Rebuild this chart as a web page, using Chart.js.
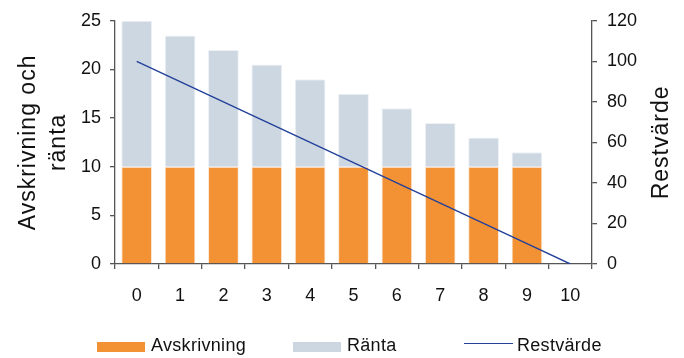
<!DOCTYPE html>
<html>
<head>
<meta charset="utf-8">
<script src="https://cdn.jsdelivr.net/npm/chart.js@4/dist/chart.umd.min.js"></script>
<style>
  html, body { margin: 0; padding: 0; background: #fff; }
  #wrap { position: relative; width: 684px; height: 358px; font-family: "Liberation Sans", Arial, sans-serif; }
  canvas { position: absolute; left: 0; top: 0; }
  .leg { position: absolute; top: 336px; height: 18px; font-size: 18px; line-height: 18px; color: #111; letter-spacing: 0.3px; white-space: nowrap; }
  .sw { position: absolute; }
</style>
</head>
<body>
<div id="wrap">
  <canvas id="c" width="684" height="358"></canvas>
  <div class="sw" style="left:97px; top:342px; width:48px; height:10px; background:#F39234;"></div>
  <div class="leg" style="left:151px;">Avskrivning</div>
  <div class="sw" style="left:293px; top:342px; width:48px; height:10px; background:#CDD7E2;"></div>
  <div class="leg" style="left:347px;">Ränta</div>
  <div class="sw" style="left:464px; top:343px; width:49px; height:1.4px; background:#23409A;"></div>
  <div class="leg" style="left:517px;">Restvärde</div>
</div>
<script>
// Years
const years = ['0', '1', '2', '3', '4', '5', '6', '7', '8', '9', '10'];
// Annual depreciation (left axis)
const avskrivning = [10, 10, 10, 10, 10, 10, 10, 10, 10, 10, null];
// Annual interest (left axis)
const ranta = [15, 13.5, 12, 10.5, 9, 7.5, 6, 4.5, 3, 1.5, null];
// Remaining value (right axis)
const restvarde = [100, 90, 80, 70, 60, 50, 40, 30, 20, 10, 0];

const leftTitle = ['Avskrivning och', 'ränta'];
const rightTitle = 'Restvärde';

const axisColor = '#555555';
const tickFont = { family: '"Liberation Sans", Arial, sans-serif', size: 18 };

// Rotated axis titles
const axisTitles = {
  id: 'axisTitles',
  afterDraw(chart) {
    const ctx = chart.ctx;
    ctx.save();
    ctx.fillStyle = '#111';
    ctx.font = '23px "Liberation Sans", Arial, sans-serif';
    ctx.letterSpacing = '1px';
    ctx.textAlign = 'center';
    ctx.textBaseline = 'alphabetic';
    const cy = (chart.chartArea.top + chart.chartArea.bottom) / 2;
    const drawRot = (text, x, y) => {
      ctx.save();
      ctx.translate(x, y);
      ctx.rotate(-Math.PI / 2);
      ctx.fillText(text, 0, 0);
      ctx.restore();
    };
    drawRot(leftTitle[0], 35, cy);
    drawRot(leftTitle[1], 65, cy);
    drawRot(rightTitle, 668, cy);
    ctx.restore();
  }
};

new Chart(document.getElementById('c'), {
  data: {
    labels: years,
    datasets: [
      {
        type: 'line',
        label: 'Restvärde',
        data: restvarde,
        yAxisID: 'y1',
        borderColor: '#23409A',
        borderWidth: 1.4,
        pointRadius: 0,
        tension: 0,
        order: 0
      },
      {
        type: 'bar',
        label: 'Avskrivning',
        data: avskrivning,
        yAxisID: 'y',
        stack: 's',
        backgroundColor: '#F39234',
        borderColor: '#FBE9DA',
        borderWidth: 1,
        barPercentage: 0.71,
        categoryPercentage: 1,
        order: 1
      },
      {
        type: 'bar',
        label: 'Ränta',
        data: ranta,
        yAxisID: 'y',
        stack: 's',
        backgroundColor: '#CDD7E2',
        borderColor: '#EEF2F6',
        borderWidth: 1,
        barPercentage: 0.71,
        categoryPercentage: 1,
        order: 1
      }
    ]
  },
  options: {
    responsive: false,
    animation: false,
    layout: { autoPadding: false, padding: { top: 20, bottom: 54, left: 0, right: 0 } },
    plugins: { legend: { display: false }, tooltip: { enabled: false } },
    scales: {
      x: {
        offset: true,
        stacked: true,
        afterFit: s => { s.height = 40; },
        border: { display: true, color: axisColor, width: 1.3 },
        grid: { offset: true, drawOnChartArea: false, drawTicks: true, tickLength: 5, color: axisColor, lineWidth: 1.3 },
        ticks: { font: tickFont, color: '#111', padding: 16, maxRotation: 0 }
      },
      y: {
        position: 'left',
        stacked: true,
        min: 0, max: 25,
        afterFit: s => { s.width = 115; },
        border: { display: true, color: axisColor, width: 1.3 },
        grid: { drawOnChartArea: false, drawTicks: true, tickLength: 5, color: axisColor, lineWidth: 1.3 },
        ticks: { stepSize: 5, font: tickFont, color: '#111', padding: 9 }
      },
      y1: {
        position: 'right',
        min: 0, max: 120,
        afterFit: s => { s.width = 92; },
        border: { display: true, color: axisColor, width: 1.3 },
        grid: { drawOnChartArea: false, drawTicks: true, tickLength: 5, color: axisColor, lineWidth: 1.3 },
        ticks: { stepSize: 20, font: tickFont, color: '#111', padding: 10 }
      }
    }
  },
  plugins: [axisTitles]
});
</script>
</body>
</html>
